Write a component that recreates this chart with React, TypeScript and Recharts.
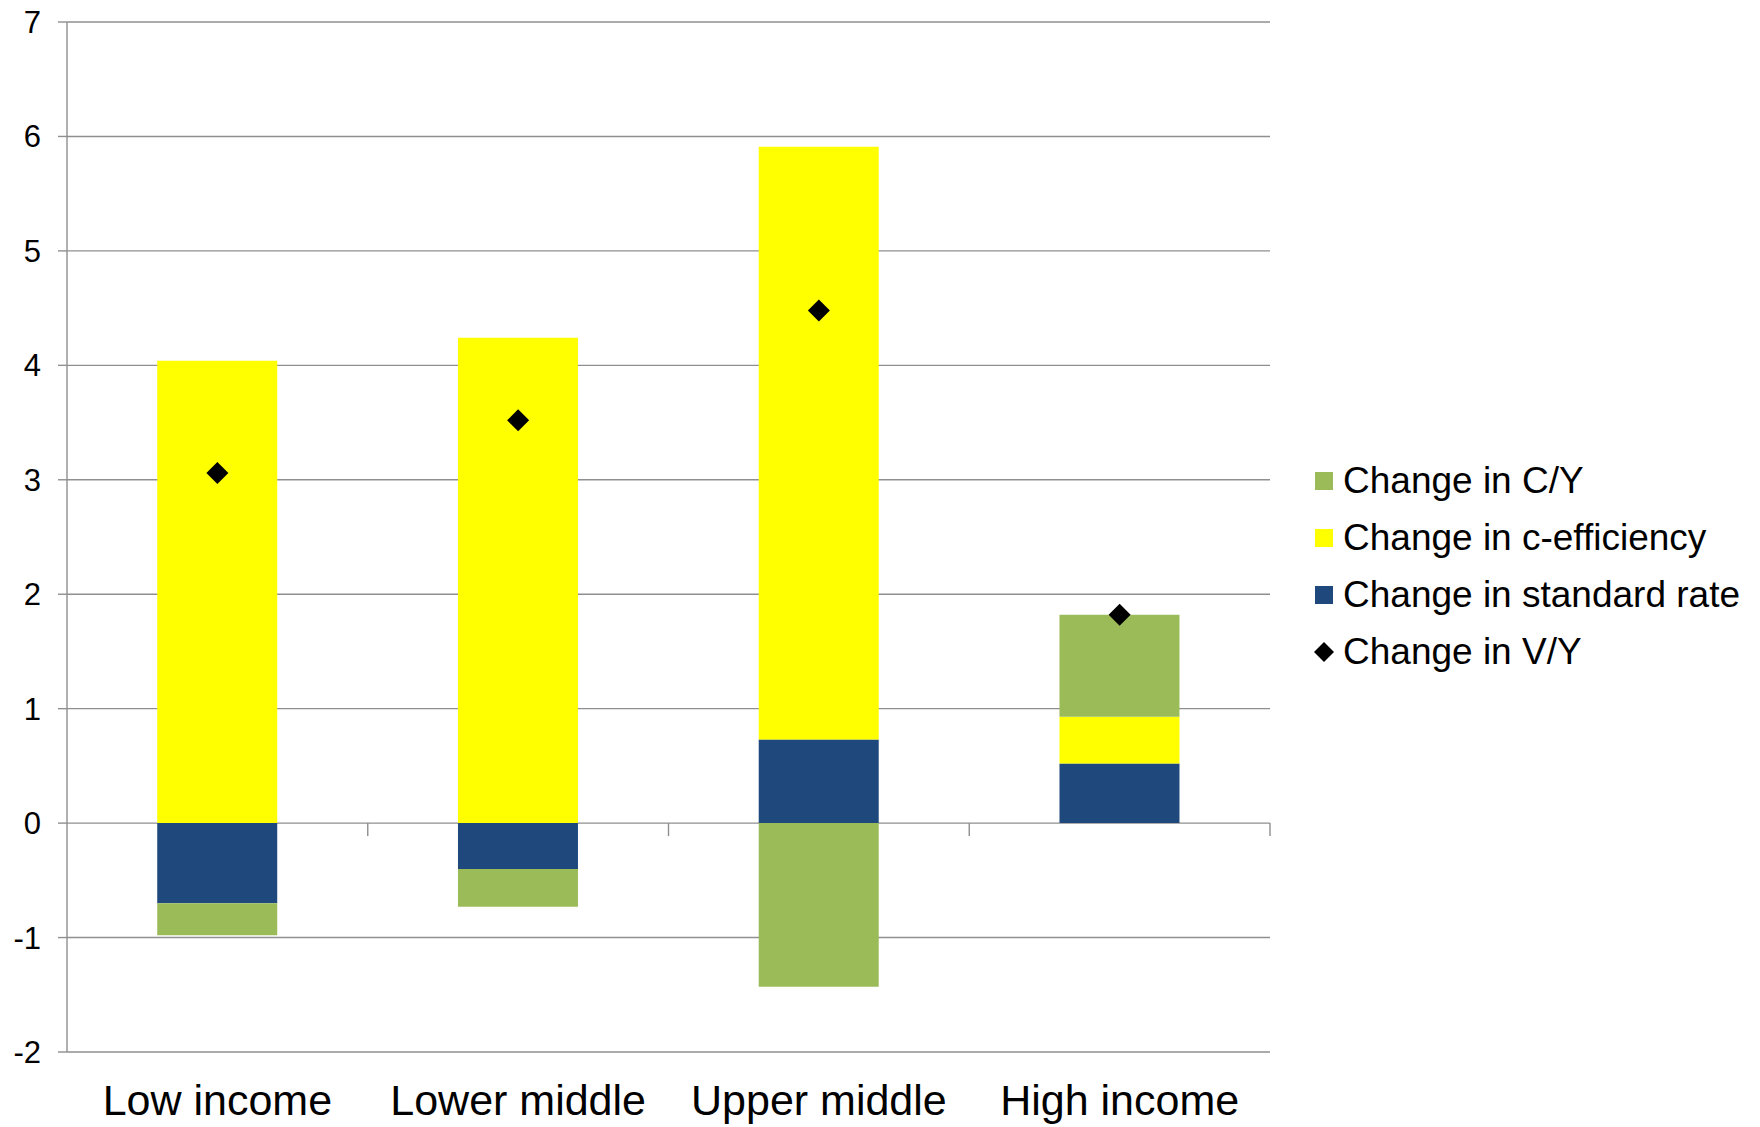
import { ComposedChart, CartesianGrid, XAxis, YAxis, Bar, Line, Legend, ReferenceLine } from "recharts";

const categories = ["Low income", "Lower middle", "Upper middle", "High income"];
const standardRate = [-0.7, -0.4, 0.73, 0.52];
const cEfficiency = [4.04, 4.24, 5.18, 0.41];
const cyChange = [-0.28, -0.33, -1.43, 0.89];
const vyChange = [3.06, 3.52, 4.48, 1.82];
const yTicks = [-2, -1, 0, 1, 2, 3, 4, 5, 6, 7];

const legendItems = [
  { label: "Change in C/Y", color: "#9BBB59", kind: "square" },
  { label: "Change in c-efficiency", color: "#FFFF00", kind: "square" },
  { label: "Change in standard rate", color: "#1F497D", kind: "square" },
  { label: "Change in V/Y", color: "#000000", kind: "diamond" },
];

const data = categories.map((name, i) => ({
  name,
  rate: standardRate[i],
  ceff: cEfficiency[i],
  cy: cyChange[i],
  vy: vyChange[i],
}));

const FONT = '"Liberation Sans", Arial, sans-serif';
const GRID = "#8f8f8f";

function Diamond(props: any) {
  const { cx, cy } = props;
  if (cx == null || cy == null) return null;
  const r = 11;
  return <polygon points={`${cx},${cy - r} ${cx + r},${cy} ${cx},${cy + r} ${cx - r},${cy}`} fill="#000" />;
}

// category boundary ticks hanging below the zero line
function ZeroTicks(props: any) {
  const { x1, x2, y1 } = props;
  const n = categories.length;
  const step = (x2 - x1) / n;
  return (
    <g>
      {categories.map((_, i) => (
        <line key={i} x1={x1 + (i + 1) * step} x2={x1 + (i + 1) * step} y1={y1} y2={y1 + 13} stroke={GRID} strokeWidth={1.4} />
      ))}
    </g>
  );
}

function LegendBox() {
  return (
    <div style={{ fontFamily: FONT, fontSize: 37, color: "#000" }}>
      {legendItems.map((it) => (
        <div key={it.label} style={{ display: "flex", alignItems: "center", height: 57, whiteSpace: "nowrap" }}>
          <svg width={20} height={20} style={{ marginRight: 9 }}>
            {it.kind === "square" ? (
              <rect x={1} y={1} width={18} height={18} fill={it.color} />
            ) : (
              <polygon points="10,0 20,10 10,20 0,10" fill={it.color} />
            )}
          </svg>
          <span>{it.label}</span>
        </div>
      ))}
    </div>
  );
}

export default function App() {
  return (
    <div style={{ position: "absolute", left: 0, top: 0, background: "#fff" }}>
      <ComposedChart
        width={1760}
        height={1127}
        data={data}
        stackOffset="sign"
        barCategoryGap="30%"
        margin={{ top: 22, right: 490, bottom: 0, left: 0 }}
      >
        <CartesianGrid vertical={false} stroke={GRID} strokeWidth={1.4} />
        <XAxis
          dataKey="name"
          axisLine={false}
          tickLine={false}
          tickSize={0}
          tickMargin={32}
          height={75}
          interval={0}
          tick={{ fontSize: 43, fill: "#000", fontFamily: FONT }}
        />
        <YAxis
          type="number"
          domain={[-2, 7]}
          ticks={yTicks}
          interval={0}
          width={67}
          tickSize={9}
          tickMargin={17}
          axisLine={{ stroke: GRID, strokeWidth: 1.4 }}
          tickLine={{ stroke: GRID, strokeWidth: 1.4 }}
          tick={{ fontSize: 31, fill: "#000", fontFamily: FONT }}
        />
        <ReferenceLine y={0} shape={<ZeroTicks />} />
        <Bar dataKey="rate" stackId="a" fill="#1F497D" isAnimationActive={false} />
        <Bar dataKey="ceff" stackId="a" fill="#FFFF00" isAnimationActive={false} />
        <Bar dataKey="cy" stackId="a" fill="#9BBB59" isAnimationActive={false} />
        <Line
          dataKey="vy"
          stroke="none"
          dot={<Diamond />}
          activeDot={false}
          legendType="none"
          isAnimationActive={false}
        />
        <Legend
          layout="vertical"
          align="center"
          verticalAlign="middle"
          content={() => <LegendBox />}
          wrapperStyle={{ position: "absolute", left: 1314, top: 452, width: 446 }}
        />
      </ComposedChart>
    </div>
  );
}
